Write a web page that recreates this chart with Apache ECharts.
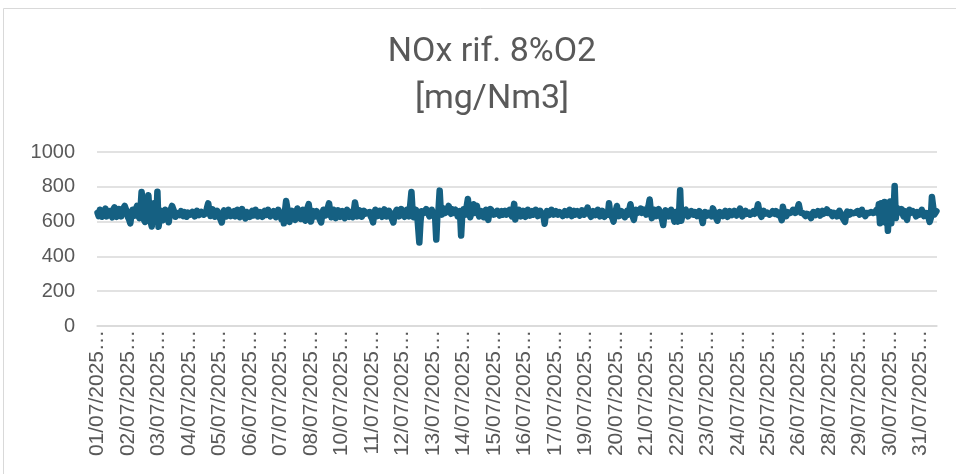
<!DOCTYPE html>
<html>
<head>
<meta charset="utf-8">
<script src="https://cdn.jsdelivr.net/npm/echarts@6/dist/echarts.min.js"></script>
<style>
html,body{margin:0;padding:0;background:#fff;}
#c{width:956px;height:474px;}
</style>
</head>
<body>
<div id="c"></div>
<script>
// Title text
var titleText = 'NOx rif. 8%O2\n[mg/Nm3]';

// Days of July 2025 and hours of each day (categories are hourly readings)
var days = ['01','02','03','04','05','06','07','08','09','10','11','12','13','14','15','16',
            '17','18','19','20','21','22','23','24','25','26','27','28','29','30','31'];
var hours = ['00','01','02','03','04','05','06','07','08','09','10','11',
             '12','13','14','15','16','17','18','19','20','21','22','23'];

// Y axis ticks
var yTicks = [0, 200, 400, 600, 800, 1000];

// NOx values, one list per day (24 hourly values each)
var d01 = [650,632,668,655,628,640,662,675,630,622,648,660,638,625,670,682,640,628,655,672,645,630,660,678];
var d02 = [690,700,655,625,612,590,640,668,650,635,672,690,640,620,665,770,705,612,598,642,698,752,645,600];
var d03 = [572,640,705,690,600,772,570,612,662,640,608,625,668,650,630,596,640,672,690,700,655,628,645,640];
var d04 = [650,638,660,645,632,655,648,628,652,660,640,635,656,648,630,645,662,650,638,628,655,665,640,632];
var d05 = [648,680,705,660,632,645,670,650,628,640,662,648,625,612,595,640,665,655,630,648,668,645,632,650];
var d06 = [642,660,630,648,668,640,625,652,672,645,630,618,655,665,640,628,650,662,635,645,668,650,630,640];
var d07 = [655,640,628,650,662,638,645,668,652,630,620,648,660,640,625,650,668,655,635,612,640,590,660,718];
var d08 = [680,620,598,640,662,650,630,610,645,675,660,630,615,648,668,640,605,640,680,700,650,600,630,660];
var d09 = [650,630,660,645,625,610,595,640,668,655,635,650,680,705,660,625,640,668,650,620,645,665,640,628];
var d10 = [645,660,632,620,650,668,640,628,655,640,625,660,710,672,630,645,665,650,628,640,662,645,635,650];
var d11 = [640,655,630,618,595,640,668,650,632,645,662,640,628,655,670,648,630,640,662,650,625,612,595,640];
var d12 = [655,668,645,630,650,672,660,640,628,652,668,645,630,640,770,660,625,645,668,650,640,480,600,660];
var d13 = [668,650,640,672,660,645,630,655,668,650,640,625,497,640,668,778,655,640,662,675,650,640,672,690];
var d14 = [660,645,672,650,640,668,655,630,645,660,520,640,670,655,640,690,730,660,625,648,670,700,650,640];
var d15 = [690,650,630,645,660,640,625,655,668,640,610,650,672,680,655,640,630,648,662,650,635,645,660,640];
var d16 = [648,662,640,630,652,668,645,630,660,702,612,640,655,668,645,630,650,662,640,628,655,668,648,635];
var d17 = [645,660,640,655,668,650,632,645,662,650,640,630,588,640,660,650,638,652,668,655,640,645,660,650];
var d18 = [640,655,665,648,632,645,660,650,638,655,668,645,632,650,662,640,645,660,650,635,648,665,655,640];
var d19 = [650,662,680,655,640,628,645,660,650,638,655,668,645,630,650,662,640,628,652,660,640,705,650,640];
var d20 = [620,600,640,662,690,650,632,645,660,650,640,625,648,662,640,650,700,660,630,610,645,668,650,640];
var d21 = [660,675,650,640,668,655,640,660,690,727,660,620,640,668,650,632,645,672,655,630,612,580,640,665];
var d22 = [660,645,630,655,668,650,640,600,655,645,600,640,780,605,640,660,650,668,645,630,655,640,660,650];
var d23 = [640,655,648,632,645,660,640,620,592,640,655,648,635,650,660,645,630,676,660,640,620,605,640,655];
var d24 = [660,645,632,650,662,640,628,645,660,652,638,648,662,650,635,645,658,675,655,630,640,650,662,645];
var d25 = [640,652,640,630,648,660,645,655,668,700,662,640,628,650,662,645,638,652,660,640,632,648,660,650];
var d26 = [645,660,650,638,650,640,608,685,650,640,632,655,662,648,640,655,668,660,650,645,675,700,668,650];
var d27 = [660,648,640,632,645,655,640,648,620,640,655,650,638,645,660,648,635,650,662,645,640,655,670,650];
var d28 = [640,655,648,632,650,660,645,630,648,662,650,640,620,610,598,640,658,650,640,655,662,648,640,650];
var d29 = [645,660,650,640,655,668,650,640,632,650,660,648,640,655,662,650,642,655,668,650,700,590,705,640];
var d30 = [600,712,595,690,547,660,715,590,700,640,805,620,680,650,640,660,672,645,630,660,670,610,655,668];
var d31 = [650,640,660,668,645,630,655,662,640,650,668,645,632,650,660,648,640,598,620,742,690,640,650,660];

var dayValues = [d01,d02,d03,d04,d05,d06,d07,d08,d09,d10,d11,d12,d13,d14,d15,d16,
                 d17,d18,d19,d20,d21,d22,d23,d24,d25,d26,d27,d28,d29,d30,d31];

var categories = [];
var values = [];
days.forEach(function (d, di) {
  hours.forEach(function (h, hi) {
    categories.push(d + '/07/2025 ' + h + ':00');
    values.push(dayValues[di][hi]);
  });
});

var chart = echarts.init(document.getElementById('c'), null, {renderer: 'canvas'});
chart.setOption({
  animation: false,
  backgroundColor: '#ffffff',
  title: {
    text: titleText,
    left: 487,
    textAlign: 'center',
    top: 24,
    textStyle: {
      fontFamily: 'Roboto',
      fontSize: 34,
      fontWeight: 'normal',
      color: '#595959',
      lineHeight: 47
    }
  },
  graphic: [{
    type: 'rect',
    silent: true,
    shape: {x: 3.5, y: 8.5, width: 970, height: 490},
    style: {fill: null, stroke: '#d9d9d9', lineWidth: 1}
  }],
  grid: {left: 97, right: 19, top: 152, bottom: 148, containLabel: false},
  xAxis: {
    type: 'category',
    data: categories,
    boundaryGap: true,
    axisLine: {show: true, lineStyle: {color: '#d9d9d9', width: 1.5}},
    axisTick: {show: false},
    axisLabel: {
      interval: 26,
      rotate: 90,
      margin: 4,
      fontFamily: 'Liberation Sans',
      fontSize: 21,
      color: '#595959',
      formatter: function (v) { return v.slice(0, 10) + '\u2026'; }
    },
    splitLine: {show: false}
  },
  yAxis: {
    type: 'value',
    min: yTicks[0],
    max: yTicks[yTicks.length - 1],
    interval: yTicks[1] - yTicks[0],
    axisLine: {show: false},
    axisTick: {show: false},
    axisLabel: {
      margin: 22,
      fontFamily: 'Liberation Sans',
      fontSize: 20,
      color: '#595959',
      formatter: function (v) { return String(v); }
    },
    splitLine: {lineStyle: {color: '#d9d9d9', width: 1.5}}
  },
  series: [{
    type: 'line',
    data: values,
    showSymbol: false,
    symbol: 'none',
    lineStyle: {color: '#156082', width: 6.5, cap: 'round', join: 'round'},
    itemStyle: {color: '#156082'}
  }]
});
</script>
</body>
</html>
